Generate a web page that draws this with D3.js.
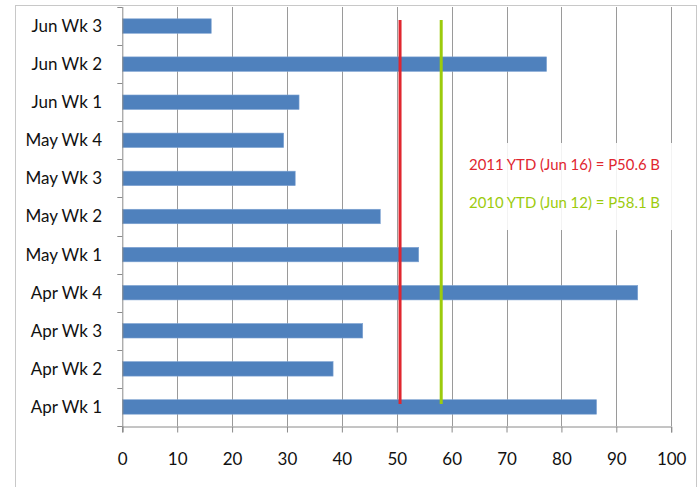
<!DOCTYPE html>
<html>
<head>
<meta charset="utf-8">
<script src="https://cdn.jsdelivr.net/npm/d3@7"></script>
<style>
  html, body { margin: 0; padding: 0; background: #fff; }
  svg { display: block; font-family: Lato, "Open Sans", sans-serif; }
</style>
</head>
<body>
<svg id="chart" width="700" height="487"></svg>
<script>
// Weekly values, bottom to top
const weeks = ["Apr Wk 1", "Apr Wk 2", "Apr Wk 3", "Apr Wk 4", "May Wk 1", "May Wk 2",
               "May Wk 3", "May Wk 4", "Jun Wk 1", "Jun Wk 2", "Jun Wk 3"];
const values = [86.4, 38.4, 43.8, 93.9, 54.0, 47.0, 31.5, 29.4, 32.2, 77.3, 16.2];
const xTicks = [0, 10, 20, 30, 40, 50, 60, 70, 80, 90, 100];

// Year-to-date reference lines
const refLabels = ["2011 YTD (Jun 16) = P50.6 B", "2010 YTD (Jun 12) = P58.1 B"];
const refValues = [50.6, 58.1];
const refColors = ["#e0262f", "#9ccb0c"];

const svg = d3.select("#chart");
const plot = { left: 122.3, right: 671.2, top: 7, bottom: 426 };

// Outer frame
svg.append("rect")
  .attr("x", 15.5).attr("y", 5.5).attr("width", 681).attr("height", 500)
  .attr("fill", "none").attr("stroke", "#c8c8c8").attr("stroke-width", 1);

const x = d3.scaleLinear().domain([0, 100]).range([plot.left, plot.right]);
const y = d3.scaleBand().domain(weeks.slice().reverse())
  .range([plot.top, plot.bottom]).paddingInner(0.62).paddingOuter(0.31);
const yStep = d3.scaleBand().domain(weeks.slice().reverse())
  .range([plot.top, plot.bottom]).padding(0);

// Vertical gridlines
svg.append("g").selectAll("line").data(xTicks.slice(1)).join("line")
  .attr("x1", d => Math.round(x(d)) + 0.5).attr("x2", d => Math.round(x(d)) + 0.5)
  .attr("y1", plot.top).attr("y2", plot.bottom)
  .attr("stroke", "#9a9a9a").attr("stroke-width", 1);

// Bars
svg.append("g").selectAll("rect").data(weeks).join("rect")
  .attr("x", x(0))
  .attr("y", d => y(d))
  .attr("width", (d, i) => x(values[i]) - x(0))
  .attr("height", y.bandwidth())
  .attr("fill", "#4f81bd")
  .attr("stroke", "#7ea3d2").attr("stroke-width", 0.6);

// Label box behind the annotations
svg.append("rect")
  .attr("x", 467).attr("y", 143).attr("width", 205).attr("height", 87)
  .attr("fill", "#fff").attr("opacity", 0.88);

// Reference lines
const lineTop = yStep(weeks[weeks.length - 1]) + yStep.step() * 0.34;
const lineBottom = yStep(weeks[0]) + yStep.step() * 0.42;
svg.append("g").selectAll("line").data(refValues).join("line")
  .attr("x1", d => x(d)).attr("x2", d => x(d))
  .attr("y1", lineTop).attr("y2", lineBottom)
  .attr("stroke", (d, i) => refColors[i]).attr("stroke-width", 3);

// Annotation text
svg.append("g").selectAll("text").data(refLabels).join("text")
  .attr("x", 469).attr("y", (d, i) => 170 + i * 38)
  .attr("fill", (d, i) => refColors[i])
  .attr("font-size", 15.5)
  .attr("textLength", 191)
  .attr("lengthAdjust", "spacingAndGlyphs")
  .text(d => d);

// X axis
const xAxis = svg.append("g")
  .attr("transform", `translate(0,${plot.bottom + 0.5})`)
  .call(d3.axisBottom(x).tickValues(xTicks).tickSize(6).tickPadding(20));
xAxis.select(".domain").attr("stroke", "#8a8a8a");
xAxis.selectAll(".tick line").attr("stroke", "#8a8a8a");
xAxis.selectAll(".tick text").attr("font-size", 17).attr("fill", "#111")
  .attr("font-family", "Lato, sans-serif");

// Y axis with ticks between categories
svg.append("line")
  .attr("x1", plot.left + 0.5).attr("x2", plot.left + 0.5)
  .attr("y1", plot.top).attr("y2", plot.bottom + 6)
  .attr("stroke", "#8a8a8a");
svg.append("g").selectAll("line").data(d3.range(weeks.length + 1)).join("line")
  .attr("x1", plot.left - 5).attr("x2", plot.left)
  .attr("y1", i => Math.round(plot.top + i * yStep.step()) + 0.5)
  .attr("y2", i => Math.round(plot.top + i * yStep.step()) + 0.5)
  .attr("stroke", "#8a8a8a");
svg.append("g").selectAll("text").data(weeks).join("text")
  .attr("x", 102)
  .attr("y", d => yStep(d) + yStep.step() / 2)
  .attr("dy", "0.35em")
  .attr("text-anchor", "end")
  .attr("font-size", 17).attr("fill", "#111")
  .text(d => d);
</script>
</body>
</html>
